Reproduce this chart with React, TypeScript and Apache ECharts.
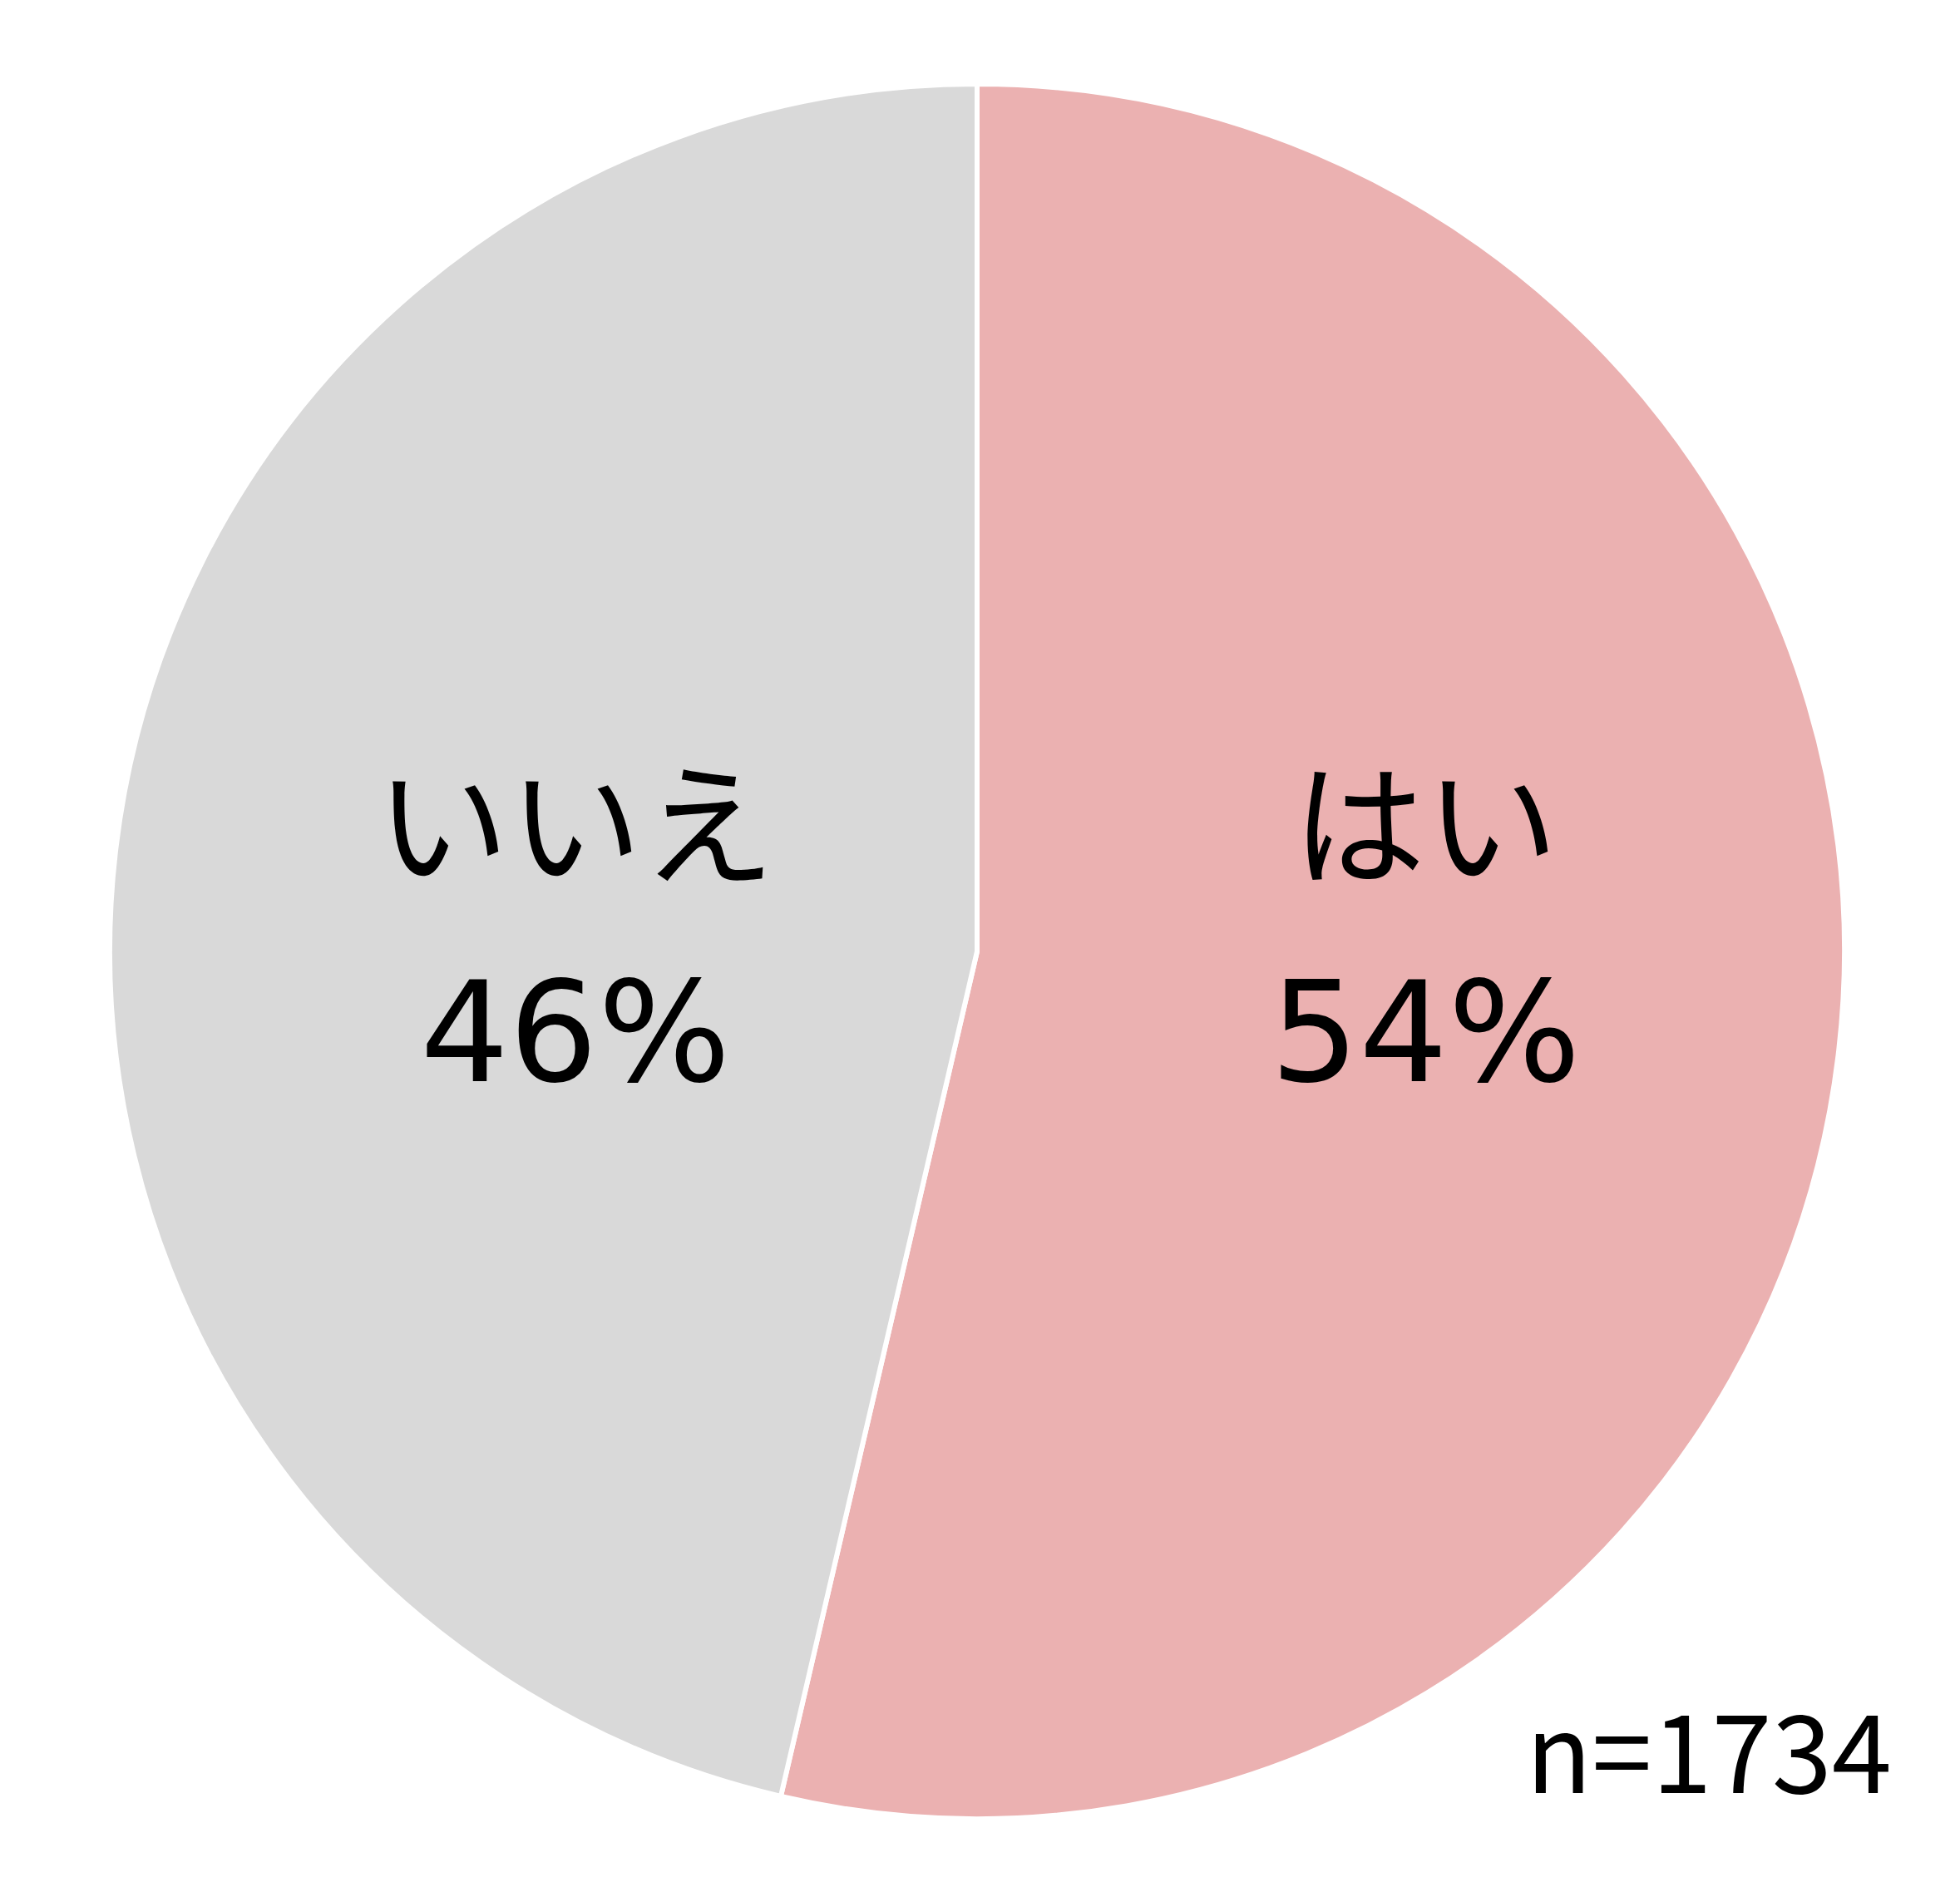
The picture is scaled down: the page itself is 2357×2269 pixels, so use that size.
import React, { useEffect, useRef } from "react";
import * as echarts from "echarts";

const categories = ["はい", "いいえ"];
const counts = [930, 804];
const colors = ["#EBB1B1", "#D9D9D9"];
const sampleLabel = "n=1734";

const labelOffsets = [
  [18, -93],
  [38, 27],
];

export default function App() {
  const ref = useRef<HTMLDivElement>(null);
  useEffect(() => {
    document.body.style.margin = "0";
    if (!ref.current) return;
    const chart = echarts.init(ref.current, null, { renderer: "svg" });
    const font = "'Noto Sans CJK JP', 'Noto Sans', sans-serif";
    const numFont = "'DejaVu Sans', 'Noto Sans', sans-serif";
    chart.setOption({
      animation: false,
      backgroundColor: "#ffffff",
      series: [
        {
          type: "pie",
          center: [1175, 1144],
          radius: [0, 1043],
          startAngle: 90,
          clockwise: true,
          avoidLabelOverlap: false,
          itemStyle: { borderColor: "#ffffff", borderWidth: 6 },
          label: {
            show: true,
            position: "inside",
            color: "#000000",
            align: "center",
            formatter: (p: any) => `{n|${p.name}}\n{p|${Math.round(p.percent)}%}`,
            rich: {
              n: {
                fontFamily: font,
                fontSize: 160,
                lineHeight: 248,
                padding: [0, 0, 10, 0],
                color: "#000000",
                align: "center",
              },
              p: {
                fontFamily: numFont,
                fontSize: 168,
                lineHeight: 248,
                padding: [14, 0, 0, 0],
                color: "#000000",
                align: "center",
              },
            },
          },
          labelLine: { show: false },
          emphasis: { disabled: true },
          data: categories.map((name, i) => ({
            name,
            value: counts[i],
            itemStyle: { color: colors[i] },
            label: { offset: labelOffsets[i] },
          })),
        },
      ],
      graphic: [
        {
          type: "text",
          x: 2275,
          y: 2099,
          style: {
            text: sampleLabel,
            fill: "#000000",
            font: `130px ${font}`,
            textAlign: "right",
            textVerticalAlign: "middle",
          },
        },
      ],
    });
    return () => chart.dispose();
  }, []);
  return <div ref={ref} style={{ width: 2357, height: 2269 }} />;
}
